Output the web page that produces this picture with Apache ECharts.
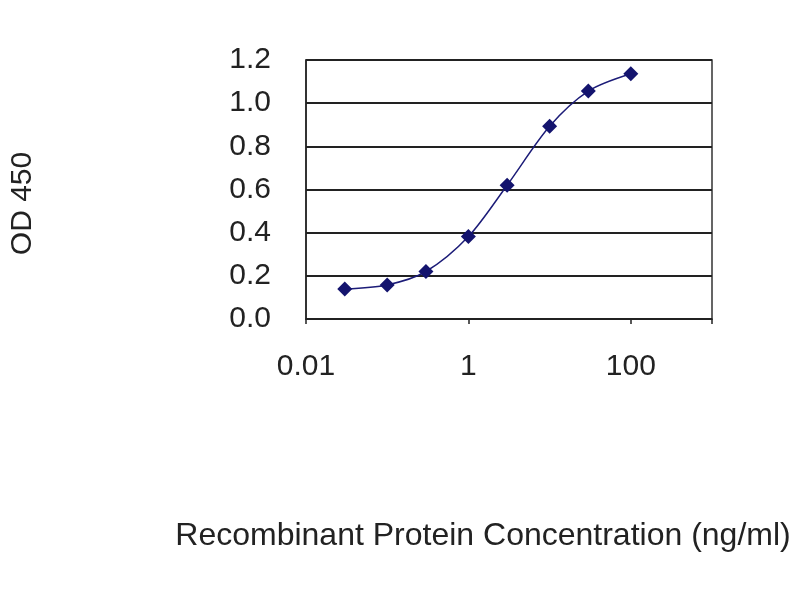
<!DOCTYPE html>
<html><head><meta charset="utf-8">
<script src="https://cdn.jsdelivr.net/npm/echarts@6/dist/echarts.min.js"></script>
<style>html,body{margin:0;background:#fff}#c{width:800px;height:600px}</style>
</head><body><div id="c"></div>
<script>
const concentrations = [0.03, 0.1, 0.3, 1, 3, 10, 30, 100];
const od450 = [0.139, 0.158, 0.22, 0.382, 0.62, 0.893, 1.056, 1.136];
const xTickLabels = ['0.01', '1', '100'];
const yTicks = [0, 0.2, 0.4, 0.6, 0.8, 1.0, 1.2];
const xTitle = 'Recombinant Protein Concentration (ng/ml)';
const yTitle = 'OD 450';

const font = '"Liberation Sans", Arial, sans-serif';
const chart = echarts.init(document.getElementById('c'), null, {renderer: 'canvas'});
chart.setOption({
  backgroundColor: '#fff',
  animation: false,
  grid: {left: 303, right: 88, top: 60, bottom: 281, show: true, borderColor: '#333', borderWidth: 1.5, backgroundColor: '#fff'},
  xAxis: {
    type: 'log', logBase: 10, min: 0.01, max: 1000, interval: 2,
    name: xTitle, nameLocation: 'middle', nameGap: 201,
    nameTextStyle: {fontFamily: font, fontSize: 32, color: '#222', padding: [0, 52, 0, 0]},
    axisLine: {show: true, lineStyle: {color: '#222', width: 1.5}},
    axisTick: {show: true, length: 5, inside: false, lineStyle: {color: '#222', width: 1.5}},
    splitLine: {show: false},
    minorTick: {show: false},
    axisLabel: {
      fontFamily: font, fontSize: 30, color: '#222', margin: 33,
      formatter: function (v) {
        const e = Math.round(Math.log10(v));
        const s = e < 0 ? Math.pow(10, e).toFixed(-e) : String(Math.pow(10, e));
        return xTickLabels.indexOf(s) >= 0 ? s : '';
      }
    }
  },
  yAxis: {
    type: 'value', min: yTicks[0], max: yTicks[yTicks.length - 1], interval: 0.2,
    name: yTitle, nameLocation: 'middle', nameGap: 268, nameRotate: 90,
    nameTextStyle: {fontFamily: font, fontSize: 30, color: '#222', padding: [0, 28, 0, 0]},
    axisLine: {show: true, lineStyle: {color: '#222', width: 1.5}},
    axisTick: {show: false},
    splitLine: {show: true, lineStyle: {color: '#222', width: 2}},
    axisLabel: {fontFamily: font, fontSize: 30, color: '#222', margin: 35,
      formatter: function (v) { return v.toFixed(1); }}
  },
  series: [{
    type: 'line',
    data: concentrations.map((c, i) => [c, od450[i]]),
    smooth: 0.3,
    symbol: 'diamond', symbolSize: 15,
    lineStyle: {color: '#1c1c78', width: 1.5},
    itemStyle: {color: '#14146e', borderWidth: 0}
  }]
});
</script></body></html>
